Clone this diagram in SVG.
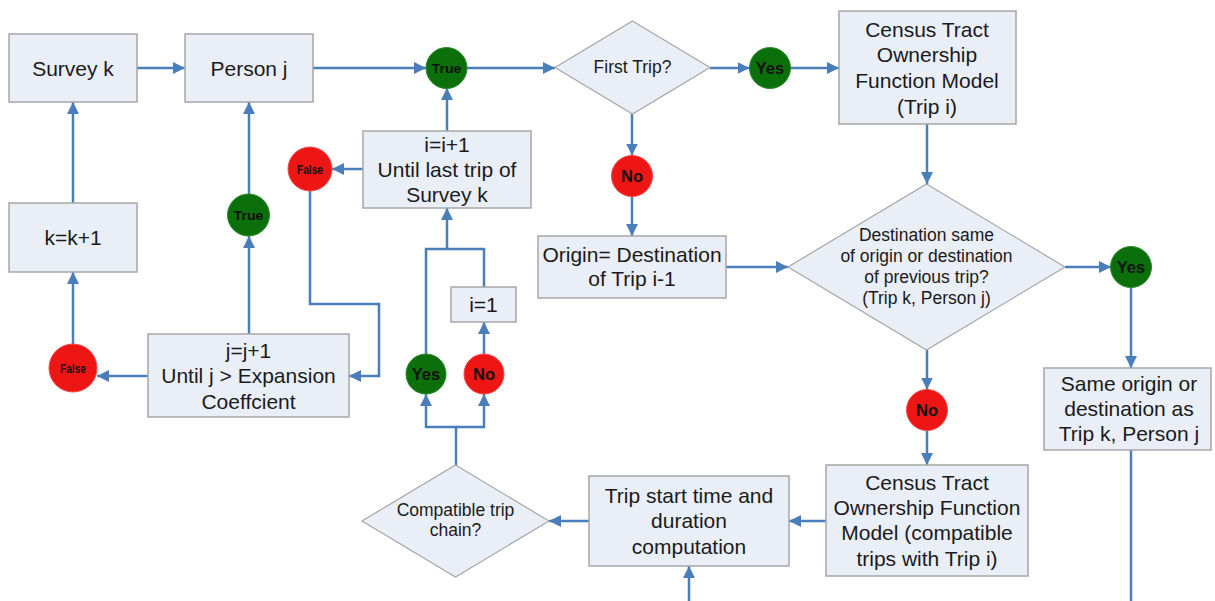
<svg xmlns="http://www.w3.org/2000/svg" width="1215" height="601" viewBox="0 0 1215 601">
<defs>
<style>
.box{fill:#e9eef7;stroke:#a6a6a6;stroke-width:1.5}
.dia{fill:#e9eef7;stroke:#a6a6a6;stroke-width:1.2}
.t{font-family:"Liberation Sans",Arial,sans-serif;font-size:21px;fill:#1a1a1a;text-anchor:middle;dominant-baseline:central}
.ts{font-family:"Liberation Sans",Arial,sans-serif;font-size:17.5px;fill:#1a1a1a;text-anchor:middle;dominant-baseline:central}
.g{fill:#0b700b;stroke:#2a8a2a;stroke-width:1}
.r{fill:#ee1515;stroke:#f04a4a;stroke-width:1}
.c{font-family:"Liberation Sans",Arial,sans-serif;font-weight:bold;fill:#111;text-anchor:middle;dominant-baseline:central}
.ln{fill:none;stroke:#4a7ebb;stroke-width:2.5}
.ar{marker-end:url(#ah)}
</style>
<marker id="ah" viewBox="0 0 12 12" refX="12" refY="6" markerWidth="12" markerHeight="12" markerUnits="userSpaceOnUse" orient="auto">
<path d="M0,0 L12,6 L0,12 z" fill="#4a7ebb"/>
</marker>
</defs>
<rect width="1215" height="601" fill="#ffffff"/>

<g id="connectors">
<path class="ln ar" d="M137,68 H185"/>
<path class="ln ar" d="M313,68 H426"/>
<path class="ln ar" d="M467,68 H555"/>
<path class="ln ar" d="M710,68 H749.5"/>
<path class="ln ar" d="M790.5,68 H839"/>
<path class="ln ar" d="M73,203 V102"/>
<path class="ln ar" d="M73,344 V272"/>
<path class="ln ar" d="M148,376 H97"/>
<path class="ln ar" d="M249,334 V236"/>
<path class="ln ar" d="M249,194 V102"/>
<path class="ln ar" d="M363,169 H332"/>
<path class="ln ar" d="M310,191 V304 H379 V376 H349"/>
<path class="ln ar" d="M447,131 V88"/>
<path class="ln" d="M426,354 V249 H484 V287"/>
<path class="ln ar" d="M447,249 V208"/>
<path class="ln ar" d="M484,354 V322"/>
<path class="ln ar" d="M456,465 V427 H426 V394"/>
<path class="ln ar" d="M456,427 H484 V394"/>
<path class="ln ar" d="M589,521 H549"/>
<path class="ln ar" d="M826,521 H789"/>
<path class="ln ar" d="M689,601 V566"/>
<path class="ln ar" d="M632,114 V155.5"/>
<path class="ln ar" d="M632,196.5 V236"/>
<path class="ln ar" d="M726,267 H788"/>
<path class="ln ar" d="M927,124 V184"/>
<path class="ln ar" d="M1065,267 H1111"/>
<path class="ln ar" d="M1131,287.5 V368"/>
<path class="ln" d="M1131,450 V601"/>
<path class="ln ar" d="M927,350 V389.5"/>
<path class="ln ar" d="M927,430.5 V465"/>
</g>

<g id="survey-k"><rect class="box" x="9" y="34" width="128" height="68"/><text class="t" x="73" y="68">Survey k</text></g>
<g id="person-j"><rect class="box" x="185" y="34" width="128" height="68"/><text class="t" x="249" y="68">Person j</text></g>
<g id="k-inc"><rect class="box" x="9" y="203" width="128" height="69"/><text class="t" x="73" y="237">k=k+1</text></g>
<g id="j-inc"><rect class="box" x="148" y="334" width="201" height="83"/>
<text class="t" x="248.5" y="350">j=j+1</text><text class="t" x="248.5" y="375.5">Until j &gt; Expansion</text><text class="t" x="248.5" y="401">Coeffcient</text></g>
<g id="i-inc"><rect class="box" x="363" y="131" width="168" height="77"/>
<text class="t" x="447" y="144">i=i+1</text><text class="t" x="447" y="169">Until last trip of</text><text class="t" x="447" y="194">Survey k</text></g>
<g id="i-one"><rect class="box" x="451" y="287" width="65" height="35"/><text class="t" x="483.5" y="304">i=1</text></g>
<g id="first-trip"><polygon class="dia" points="632.5,21 710,67.5 632.5,114 555,67.5"/><text class="ts" x="632.5" y="67">First Trip?</text></g>
<g id="census-1"><rect class="box" x="839" y="11" width="177" height="113"/>
<text class="t" x="927" y="29">Census Tract</text><text class="t" x="927" y="54.5">Ownership</text><text class="t" x="927" y="80">Function Model</text><text class="t" x="927" y="106">(Trip i)</text></g>
<g id="origin"><rect class="box" x="538" y="236" width="188" height="62"/>
<text class="t" x="632" y="254">Origin= Destination</text><text class="t" x="632" y="278.5">of Trip i-1</text></g>
<g id="dest-same"><polygon class="dia" points="926.5,184 1065,267 926.5,350 788,267"/>
<text class="ts" x="926.5" y="235">Destination same</text><text class="ts" x="926.5" y="256">of origin or destination</text><text class="ts" x="926.5" y="277">of previous trip?</text><text class="ts" x="926.5" y="298">(Trip k, Person j)</text></g>
<g id="same-od"><rect class="box" x="1044" y="368" width="167" height="82"/>
<text class="t" x="1129" y="383">Same origin or</text><text class="t" x="1129" y="408">destination as</text><text class="t" x="1129" y="433">Trip k, Person j</text></g>
<g id="census-2"><rect class="box" x="826" y="465" width="202" height="111"/>
<text class="t" x="927" y="482">Census Tract</text><text class="t" x="927" y="507">Ownership Function</text><text class="t" x="927" y="532.5">Model (compatible</text><text class="t" x="927" y="558">trips with Trip i)</text></g>
<g id="trip-start"><rect class="box" x="589" y="476" width="200" height="90"/>
<text class="t" x="689" y="495">Trip start time and</text><text class="t" x="689" y="520.5">duration</text><text class="t" x="689" y="546">computation</text></g>
<g id="compatible"><polygon class="dia" points="455.5,465 549,521 455.5,577 362,521"/>
<text class="ts" x="455.5" y="510">Compatible trip</text><text class="ts" x="455.5" y="530">chain?</text></g>

<g id="true-top"><circle class="g" cx="446.5" cy="68" r="20.5"/><text class="c" x="446.5" y="68" font-size="13" textLength="30" lengthAdjust="spacingAndGlyphs">True</text></g>
<g id="true-left"><circle class="g" cx="248.5" cy="215" r="21"/><text class="c" x="248.5" y="215" font-size="13" textLength="30" lengthAdjust="spacingAndGlyphs">True</text></g>
<g id="false-upper"><circle class="r" cx="310" cy="169" r="22"/><text class="c" x="310" y="169" font-size="13" textLength="26" lengthAdjust="spacingAndGlyphs">False</text></g>
<g id="false-left"><circle class="r" cx="73" cy="368" r="24"/><text class="c" x="73" y="368" font-size="13" textLength="26" lengthAdjust="spacingAndGlyphs">False</text></g>
<g id="yes-first"><circle class="g" cx="770" cy="68" r="20.5"/><text class="c" x="770" y="68" font-size="16.5">Yes</text></g>
<g id="no-first"><circle class="r" cx="632" cy="176" r="20.5"/><text class="c" x="632" y="176" font-size="16.5">No</text></g>
<g id="yes-dest"><circle class="g" cx="1131" cy="267" r="20.5"/><text class="c" x="1131" y="267" font-size="16.5">Yes</text></g>
<g id="no-dest"><circle class="r" cx="927" cy="410" r="20.5"/><text class="c" x="927" y="410" font-size="16.5">No</text></g>
<g id="yes-chain"><circle class="g" cx="426" cy="374" r="20"/><text class="c" x="426" y="374" font-size="16.5">Yes</text></g>
<g id="no-chain"><circle class="r" cx="484" cy="374" r="20"/><text class="c" x="484" y="374" font-size="16.5">No</text></g>
</svg>
